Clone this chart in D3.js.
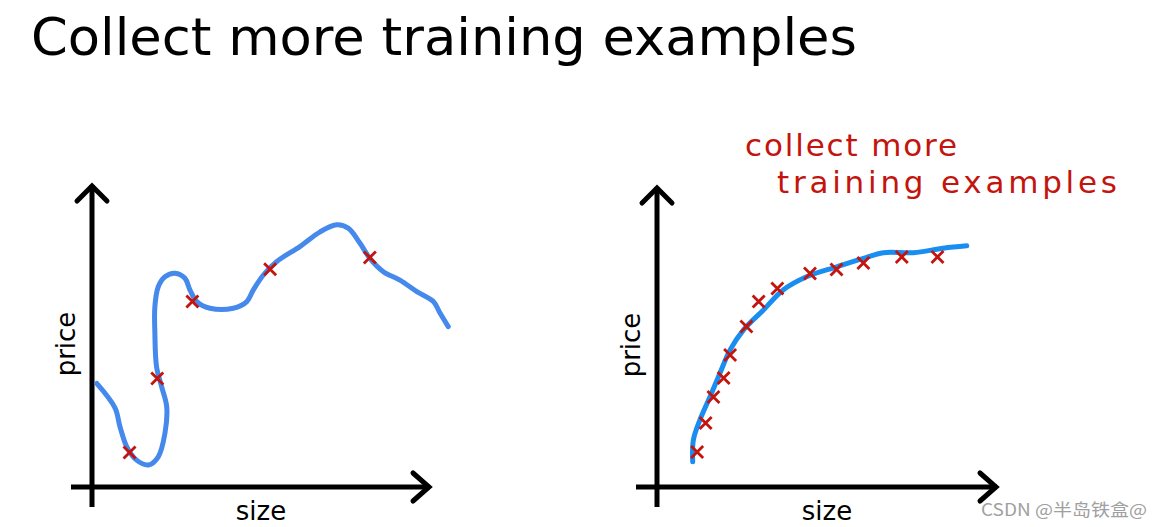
<!DOCTYPE html>
<html><head><meta charset="utf-8">
<script src="https://cdn.jsdelivr.net/npm/d3@7"></script>
<style>html,body{margin:0;padding:0;background:#fff;overflow:hidden}</style>
</head><body>
<svg id="chart" width="1157" height="527"></svg>
<script>
// ---- data ----
const title = "Collect more training examples";
const noteLines = ["collect more", "training examples"];
const xLabel = "size";
const yLabel = "price";
const watermark = "CSDN @半岛铁盒@";

// Left panel: overfit wiggly curve (size, price)
const leftCurveX = [1.4, 6.8, 8.3, 10.3, 13.2, 16.7, 19.6, 21.6, 22.1, 20.6, 19.1, 18.6, 18.6, 19.6, 21.6, 24.6, 27.5, 29.0, 31.0, 34.9, 41.8, 45.8, 47.7, 50.7, 54.6, 61.5, 67.5, 72.4, 75.8, 79.3, 82.2, 86.2, 91.1, 96.1, 101.0, 103.0, 105.4];
const leftCurveY = [34.3, 26.2, 19.9, 13.3, 8.9, 7.3, 10.0, 17.9, 26.6, 33.2, 39.8, 51.0, 59.7, 66.3, 69.6, 70.8, 69.1, 65.2, 61.4, 59.2, 59.2, 61.4, 65.2, 70.2, 74.6, 79.6, 84.5, 86.8, 85.7, 80.7, 75.7, 71.3, 68.5, 64.7, 61.4, 57.5, 53.1];
const leftPtsX = [11.1, 19.3, 29.7, 52.7, 82.2];
const leftPtsY = [11.4, 35.9, 61.4, 72.1, 76.0];

// Right panel: smooth fit with more examples
const rightCurveX = [10.5, 10.7, 12.6, 15.6, 18.5, 21.5, 25.4, 31.3, 37.1, 44.0, 52.9, 60.7, 66.6, 75.4, 84.2, 91.1];
const rightCurveY = [8.4, 15.7, 22.3, 30.1, 37.9, 45.7, 52.3, 59.0, 65.7, 70.1, 73.4, 76.2, 78.1, 78.1, 79.6, 80.4];
const rightPtsX = [11.8, 14.3, 16.6, 19.6, 21.5, 26.3, 29.9, 35.4, 45.0, 52.8, 60.7, 72.0, 82.5];
const rightPtsY = [11.7, 21.3, 30.0, 36.3, 44.0, 53.5, 61.8, 66.2, 71.2, 72.5, 74.7, 76.7, 76.7];

// ---- drawing ----
const svg = d3.select("#chart");
svg.append("rect").attr("width",1157).attr("height",527).attr("fill","#fff");

svg.append("text").attr("x",31).attr("y",55)
  .attr("font-family","DejaVu Sans").attr("font-size",51).attr("fill","#000")
  .attr("textLength",826).attr("lengthAdjust","spacingAndGlyphs")
  .text(title);

function panel(cfg){
  const x = d3.scaleLinear().domain([0,100]).range([cfg.x0, cfg.x1]);
  const y = d3.scaleLinear().domain([0,100]).range([cfg.y0, cfg.y1]);
  const g = svg.append("g");
  const ax = {stroke:"#000","stroke-width":5,fill:"none"};
  const ox = x(0), oy = y(0), tx = x(100), ty = y(100);
  // axes
  g.append("line").attr("x1",ox).attr("y1",oy+20).attr("x2",ox).attr("y2",ty).call(s=>Object.entries(ax).forEach(([k,v])=>s.attr(k,v)));
  g.append("line").attr("x1",ox-21).attr("y1",oy).attr("x2",tx).attr("y2",oy).call(s=>Object.entries(ax).forEach(([k,v])=>s.attr(k,v)));
  g.append("polyline").attr("points",`${ox-15},${ty+16} ${ox},${ty+1} ${ox+15},${ty+16}`)
    .attr("stroke","#000").attr("stroke-width",5).attr("fill","none").attr("stroke-linecap","round");
  g.append("polyline").attr("points",`${tx-17},${oy-14} ${tx-1},${oy} ${tx-17},${oy+14}`)
    .attr("stroke","#000").attr("stroke-width",5).attr("fill","none").attr("stroke-linecap","round");
  // labels
  g.append("text").attr("transform",`translate(${ox-17},${(oy+ty)/2+8}) rotate(-90)`)
    .attr("text-anchor","middle").attr("font-family","DejaVu Sans").attr("font-size",26).attr("fill","#000").text(yLabel);
  g.append("text").attr("x",(ox+tx)/2+(cfg.labelShift||0)).attr("y",520)
    .attr("text-anchor","middle").attr("font-family","DejaVu Sans").attr("font-size",26).attr("fill","#000").text(xLabel);
  // curve
  const pts = cfg.cx.map((v,i)=>[v,cfg.cy[i]]);
  g.append("path").datum(pts)
    .attr("d", d3.line().x(d=>x(d[0])).y(d=>y(d[1])).curve(d3.curveCatmullRom.alpha(0.5)))
    .attr("fill","none").attr("stroke",cfg.color).attr("stroke-width",5)
    .attr("stroke-linecap","round").attr("stroke-linejoin","round");
  // crosses
  const s = 6;
  const dots = cfg.px.map((v,i)=>[v,cfg.py[i]]);
  g.selectAll("path.cross").data(dots).enter().append("path").attr("class","cross")
    .attr("d", d=>{const X=x(d[0]),Y=y(d[1]);return `M${X-s},${Y-s}L${X+s},${Y+s}M${X+s},${Y-s}L${X-s},${Y+s}`;})
    .attr("stroke","#c3140e").attr("stroke-width",2.8).attr("fill","none");
}

panel({x0:92,x1:430,y0:487,y1:185,cx:leftCurveX,cy:leftCurveY,px:leftPtsX,py:leftPtsY,color:"#4589ec",labelShift:0});
panel({x0:657,x1:997,y0:487,y1:187,cx:rightCurveX,cy:rightCurveY,px:rightPtsX,py:rightPtsY,color:"#1a8ef0",labelShift:0});

// handwritten note
const note = svg.append("g").attr("font-family","DejaVu Sans").attr("font-size",31).attr("fill","#c3140e");
note.append("text").attr("x",745).attr("y",156).attr("textLength",212).attr("lengthAdjust","spacing").text(noteLines[0]);
note.append("text").attr("x",777).attr("y",193).attr("textLength",340).attr("lengthAdjust","spacing").text(noteLines[1]);

svg.append("text").attr("x",981).attr("y",516).attr("font-family","Noto Sans CJK SC, sans-serif")
  .attr("font-size",17).attr("fill","#a0a0a0").attr("textLength",166).attr("lengthAdjust","spacingAndGlyphs").text(watermark);
</script>
</body></html>
